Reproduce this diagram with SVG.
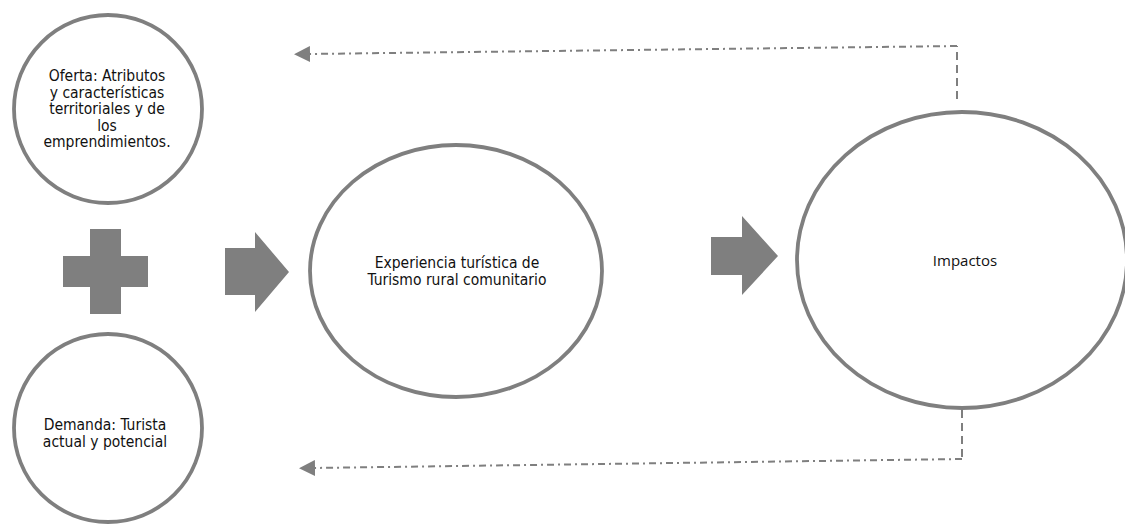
<svg xmlns="http://www.w3.org/2000/svg" width="1125" height="525" viewBox="0 0 1125 525">
  <defs>
    <style>
      .node { fill: #ffffff; stroke: #7f7f7f; stroke-width: 3.8; }
      .shape { fill: #7f7f7f; stroke: none; }
      .lbl { font-family: "DejaVu Sans Condensed", "Liberation Sans", Arial, sans-serif; font-size: 15.5px; fill: #111111; text-anchor: middle; }
      .lbl2 { font-family: "Open Sans", "Liberation Sans", sans-serif; font-size: 15px; fill: #111111; text-anchor: middle; }
      .dashdot { fill: none; stroke: #7f7f7f; stroke-width: 2; stroke-dasharray: 7 4 2 4; }
      .dash { fill: none; stroke: #7f7f7f; stroke-width: 2; stroke-dasharray: 8 5; }
    </style>
    <marker id="ah" markerUnits="userSpaceOnUse" markerWidth="16" markerHeight="16" viewBox="0 0 16 16" refX="2" refY="8" orient="auto">
      <polygon points="0,0 16,8 0,16" fill="#7f7f7f"/>
    </marker>
  </defs>
  <rect width="1125" height="525" fill="#ffffff"/>

  <g id="connectors">
    <path class="dash" d="M957,99 V46"/>
    <path class="dashdot" d="M957,46 L308,54" marker-end="url(#ah)"/>
    <path class="dash" d="M962,410 V459"/>
    <path class="dashdot" d="M962,459 L313,468" marker-end="url(#ah)"/>
  </g>

  <g id="oferta">
    <circle class="node" cx="108" cy="109" r="94"/>
    <text class="lbl" x="107" y="81">Oferta: Atributos</text>
    <text class="lbl" x="107" y="97.5">y características</text>
    <text class="lbl" x="107" y="114">territoriales y de</text>
    <text class="lbl" x="107" y="130.5">los</text>
    <text class="lbl" x="107" y="147">emprendimientos.</text>
  </g>

  <g id="plus">
    <polygon class="shape" points="90,229 121,229 121,256 148,256 148,287 121,287 121,314 90,314 90,287 63,287 63,256 90,256"/>
  </g>

  <g id="demanda">
    <circle class="node" cx="108" cy="428" r="94"/>
    <text class="lbl" x="105" y="430">Demanda: Turista</text>
    <text class="lbl" x="105" y="447">actual y potencial</text>
  </g>

  <g id="arrow1">
    <polygon class="shape" points="225,248 255,248 255,232 289,272 255,312 255,295 225,295"/>
  </g>

  <g id="experiencia">
    <ellipse class="node" cx="456" cy="271" rx="146" ry="126"/>
    <text class="lbl" x="457" y="268">Experiencia turística de</text>
    <text class="lbl" x="457" y="285">Turismo rural comunitario</text>
  </g>

  <g id="arrow2">
    <polygon class="shape" points="711,237 742,237 742,216 778,256 742,295 742,275 711,275"/>
  </g>

  <g id="impactos">
    <ellipse class="node" cx="962" cy="260" rx="165" ry="148"/>
    <text class="lbl2" x="965" y="266">Impactos</text>
  </g>
</svg>
